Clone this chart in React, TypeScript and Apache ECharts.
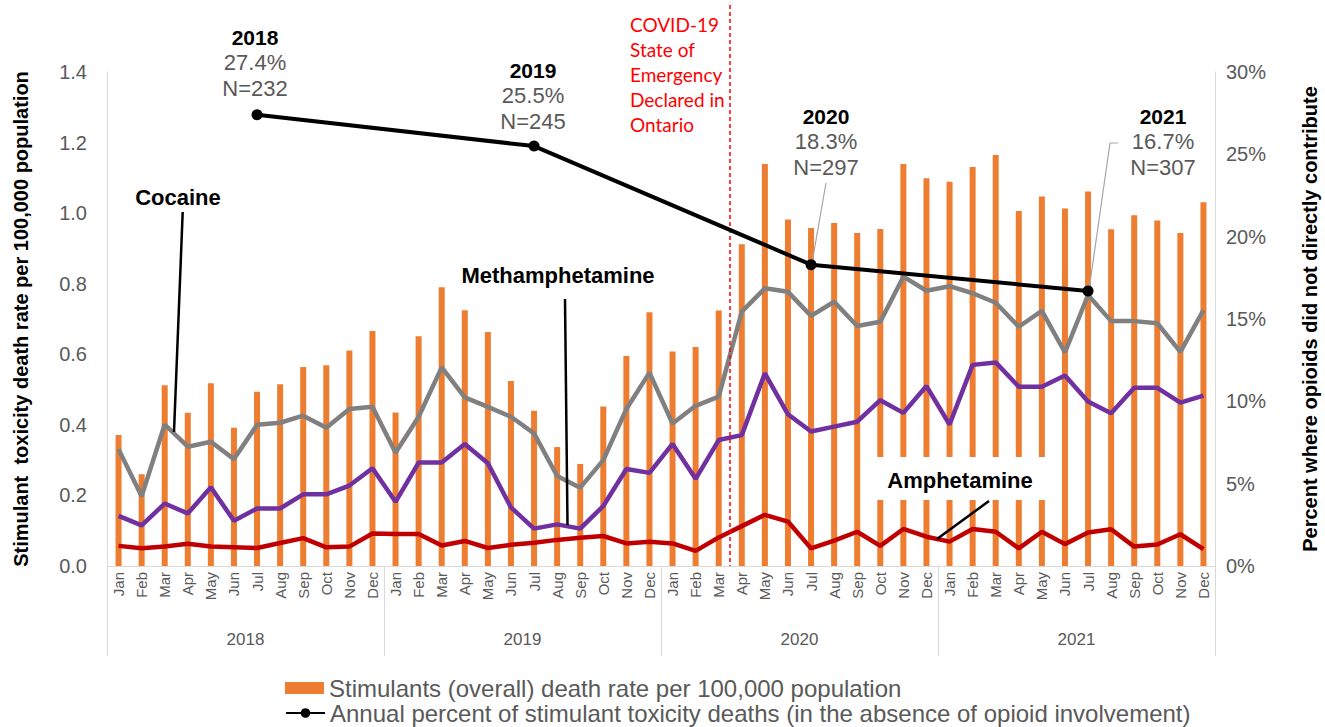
import React, { useEffect, useRef } from "react";
import * as echarts from "echarts";

const months = ["Jan", "Feb", "Mar", "Apr", "May", "Jun", "Jul", "Aug", "Sep", "Oct", "Nov", "Dec"];
const years = ["2018", "2019", "2020", "2021"];

const stimulantsRate = [
  0.371, 0.26, 0.512, 0.434, 0.518, 0.392, 0.494, 0.515, 0.564, 0.569, 0.611, 0.666,
  0.435, 0.651, 0.79, 0.725, 0.663, 0.524, 0.44, 0.337, 0.289, 0.452, 0.595, 0.719,
  0.608, 0.621, 0.724, 0.912, 1.139, 0.982, 0.958, 0.972, 0.944, 0.955, 1.139, 1.099,
  1.089, 1.131, 1.165, 1.006, 1.047, 1.013, 1.061, 0.954, 0.994, 0.979, 0.944, 1.031,
];
const cocaine = [
  0.331, 0.198, 0.401, 0.338, 0.352, 0.303, 0.4, 0.406, 0.426, 0.392, 0.445, 0.451,
  0.321, 0.423, 0.563, 0.478, 0.451, 0.423, 0.376, 0.255, 0.222, 0.3, 0.445, 0.548,
  0.404, 0.454, 0.48, 0.721, 0.787, 0.777, 0.709, 0.749, 0.68, 0.692, 0.82, 0.78,
  0.793, 0.773, 0.746, 0.678, 0.723, 0.605, 0.768, 0.694, 0.694, 0.688, 0.607, 0.725,
];
const methamphetamine = [
  0.142, 0.115, 0.177, 0.149, 0.223, 0.128, 0.163, 0.163, 0.203, 0.203, 0.228, 0.277,
  0.182, 0.293, 0.293, 0.346, 0.291, 0.166, 0.106, 0.118, 0.106, 0.17, 0.275, 0.264,
  0.346, 0.247, 0.357, 0.371, 0.546, 0.43, 0.381, 0.395, 0.409, 0.47, 0.434, 0.51,
  0.401, 0.57, 0.577, 0.508, 0.508, 0.54, 0.466, 0.433, 0.505, 0.505, 0.463, 0.483,
];
const amphetamine = [
  0.057, 0.05, 0.055, 0.063, 0.055, 0.053, 0.051, 0.065, 0.079, 0.053, 0.055, 0.092,
  0.091, 0.091, 0.058, 0.071, 0.051, 0.06, 0.066, 0.074, 0.08, 0.085, 0.064, 0.069,
  0.064, 0.043, 0.081, 0.113, 0.145, 0.126, 0.05, 0.072, 0.097, 0.057, 0.105, 0.083,
  0.069, 0.105, 0.097, 0.05, 0.097, 0.062, 0.095, 0.104, 0.055, 0.061, 0.09, 0.048,
];
const annualPercent = [27.4, 25.5, 18.3, 16.7];
const annualN = [232, 245, 297, 307];
const annualMonthIndex = 6; // July

const rateTicks = [0, 0.2, 0.4, 0.6, 0.8, 1.0, 1.2, 1.4];
const percentTicks = [0, 5, 10, 15, 20, 25, 30];

const barName = "Stimulants (overall) death rate per 100,000 population";
const annualName = "Annual percent of stimulant toxicity deaths (in the absence of opioid involvement)";
const covidText = ["COVID-19", "State of", "Emergency", "Declared in", "Ontario"];

const FONT = "'Liberation Sans', Arial, sans-serif";
const GREY_TEXT = "#595959";

export default function App() {
  const ref = useRef<HTMLDivElement>(null);

  useEffect(() => {
    if (!ref.current) return;
    const chart = echarts.init(ref.current, undefined, { renderer: "svg" });

    const categories = years.flatMap(() => months);
    const annualData: (number | null)[] = categories.map(() => null);
    years.forEach((_, i) => {
      annualData[i * 12 + annualMonthIndex] = annualPercent[i];
    });

    const annPos = [
      { x: 255, y: 37 },
      { x: 533, y: 70 },
      { x: 826, y: 116 },
      { x: 1163, y: 116 },
    ];
    const annTexts: any[] = [];
    years.forEach((yr, i) => {
      const p = annPos[i];
      annTexts.push({
        type: "text", x: p.x, y: p.y, z: 100,
        style: { text: yr, font: `bold 21px ${FONT}`, fill: "#000", align: "center", verticalAlign: "middle" },
      });
      annTexts.push({
        type: "text", x: p.x, y: p.y + 25.5, z: 100,
        style: { text: annualPercent[i].toFixed(1) + "%", font: `22px ${FONT}`, fill: GREY_TEXT, align: "center", verticalAlign: "middle" },
      });
      annTexts.push({
        type: "text", x: p.x, y: p.y + 51, z: 100,
        style: { text: "N=" + annualN[i], font: `22px ${FONT}`, fill: GREY_TEXT, align: "center", verticalAlign: "middle" },
      });
    });

    const covidTexts = covidText.map((t, i) => ({
      type: "text", x: 630, y: 24 + i * 25, z: 100,
      style: { text: t, font: `19px Lato, 'Open Sans', sans-serif`, fill: "#FF0000", align: "left", verticalAlign: "middle" },
    }));

    const legendText = { fontSize: 24, color: GREY_TEXT, fontFamily: FONT };

    const option: any = {
      animation: false,
      textStyle: { fontFamily: FONT },
      grid: { left: 107, right: 110, top: 72, bottom: 161, containLabel: false, outerBoundsMode: "none" },
      legend: [
        {
          left: 285,
          top: 676,
          padding: 0,
          itemWidth: 39,
          itemHeight: 12,
          data: [{ name: barName, icon: "rect" }],
          textStyle: legendText,
        },
        {
          left: 285,
          top: 701,
          padding: 0,
          itemWidth: 39,
          itemHeight: 12,
          data: [{ name: annualName }],
          textStyle: legendText,
        },
      ],
      xAxis: [
        {
          type: "category",
          data: categories,
          position: "bottom",
          axisLine: { show: true, lineStyle: { color: "#D9D9D9", width: 1 } },
          axisTick: { show: false },
          axisLabel: { interval: 0, rotate: 90, fontSize: 15, color: GREY_TEXT, margin: 6, fontFamily: FONT },
        },
        {
          type: "category",
          data: years,
          position: "bottom",
          axisLine: { show: false },
          axisTick: { show: true, length: 90, lineStyle: { color: "#D9D9D9", width: 1 } },
          axisLabel: { fontSize: 17, color: GREY_TEXT, margin: 65, fontFamily: FONT },
        },
      ],
      yAxis: [
        {
          type: "value",
          min: rateTicks[0],
          max: rateTicks[rateTicks.length - 1],
          interval: 0.2,
          name: "Stimulant  toxicity death rate per 100,000 population",
          nameLocation: "middle",
          nameRotate: 90,
          nameGap: 76,
          nameTextStyle: { fontSize: 20, fontWeight: "bold", color: "#000", fontFamily: FONT },
          axisLine: { show: true, lineStyle: { color: "#D9D9D9", width: 1 } },
          axisTick: { show: false },
          splitLine: { show: false },
          axisLabel: { formatter: (v: number) => v.toFixed(1), fontSize: 20, color: GREY_TEXT, margin: 20, fontFamily: FONT },
        },
        {
          type: "value",
          min: percentTicks[0],
          max: percentTicks[percentTicks.length - 1],
          interval: 5,
          name: "Percent where opioids did not directly contribute",
          nameLocation: "middle",
          nameRotate: 90,
          nameGap: 85,
          nameTextStyle: { fontSize: 20, fontWeight: "bold", color: "#000", fontFamily: FONT },
          axisLine: { show: true, lineStyle: { color: "#D9D9D9", width: 1 } },
          axisTick: { show: false },
          splitLine: { show: false },
          axisLabel: { formatter: "{value}%", fontSize: 20, color: GREY_TEXT, margin: 11, fontFamily: FONT },
        },
      ],
      series: [
        {
          name: barName,
          type: "bar",
          data: stimulantsRate,
          barWidth: 6,
          itemStyle: { color: "#ED7D31" },
          z: 1,
        },
        {
          name: "Cocaine",
          type: "line",
          data: cocaine,
          symbol: "none",
          lineStyle: { color: "#808080", width: 4.5 },
          itemStyle: { color: "#808080" },
          z: 5,
        },
        {
          name: "Methamphetamine",
          type: "line",
          data: methamphetamine,
          symbol: "none",
          lineStyle: { color: "#7030A0", width: 4.5 },
          itemStyle: { color: "#7030A0" },
          z: 5,
        },
        {
          name: "Amphetamine",
          type: "line",
          data: amphetamine,
          symbol: "none",
          lineStyle: { color: "#C00000", width: 4.5 },
          itemStyle: { color: "#C00000" },
          z: 5,
        },
        {
          name: annualName,
          type: "line",
          yAxisIndex: 1,
          data: annualData,
          connectNulls: true,
          symbol: "circle",
          symbolSize: 11,
          lineStyle: { color: "#000", width: 4 },
          itemStyle: { color: "#000" },
          z: 8,
        },
      ],
      graphic: [
        { type: "rect", z: 3, shape: { x: 870, y: 457, width: 183, height: 43 }, style: { fill: "#fff" } },
        { type: "line", z: 6, shape: { x1: 730, y1: 5, x2: 730, y2: 566 }, style: { stroke: "#FF0000", lineWidth: 1.5, lineDash: [4, 3] } },
        ...covidTexts,
        { type: "text", x: 178, y: 197, z: 100, style: { text: "Cocaine", font: `bold 22px ${FONT}`, fill: "#000", align: "center", verticalAlign: "middle" } },
        { type: "line", z: 7, shape: { x1: 182.7, y1: 212, x2: 174, y2: 432 }, style: { stroke: "#000", lineWidth: 2.5 } },
        { type: "text", x: 558, y: 275, z: 100, style: { text: "Methamphetamine", font: `bold 22px ${FONT}`, fill: "#000", align: "center", verticalAlign: "middle" } },
        { type: "line", z: 7, shape: { x1: 565, y1: 299, x2: 567.5, y2: 525 }, style: { stroke: "#000", lineWidth: 2.5 } },
        { type: "text", x: 960, y: 480, z: 100, style: { text: "Amphetamine", font: `bold 22px ${FONT}`, fill: "#000", align: "center", verticalAlign: "middle" } },
        { type: "line", z: 7, shape: { x1: 989, y1: 501, x2: 937, y2: 539 }, style: { stroke: "#000", lineWidth: 2.5 } },
        { type: "line", z: 7, shape: { x1: 826, y1: 183, x2: 812, y2: 263 }, style: { stroke: "#A6A6A6", lineWidth: 1.2 } },
        { type: "polyline", z: 7, shape: { points: [[1118, 143], [1110, 143], [1089, 290]] }, style: { stroke: "#A6A6A6", lineWidth: 1.2, fill: "none" } },
        ...annTexts,
      ],
    };

    chart.setOption(option);
    return () => chart.dispose();
  }, []);

  return (
    <div
      ref={ref}
      style={{ position: "absolute", left: 0, top: 0, width: 1325, height: 727, background: "#fff" }}
    />
  );
}
